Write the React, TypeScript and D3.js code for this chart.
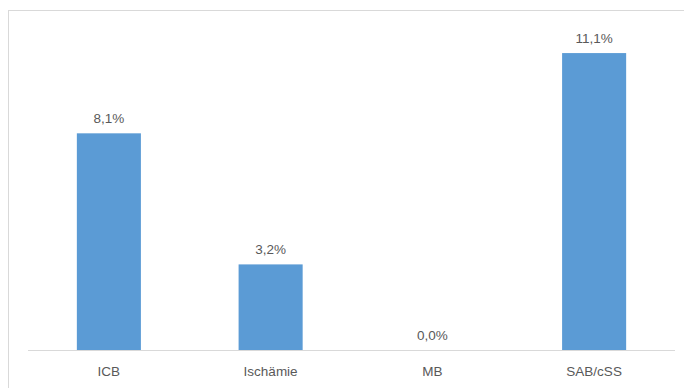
import React from "react";
import * as d3 from "d3";

const categories = ["ICB", "Ischämie", "MB", "SAB/cSS"];
const values = [8.1, 3.2, 0.0, 11.1];
const valueLabels = ["8,1%", "3,2%", "0,0%", "11,1%"];

export default function App() {
  const W = 684;
  const H = 388;
  const left = 28;
  const right = 675;
  const baseY = 350;
  const topY = 29;

  const x = d3.scaleBand<string>().domain(categories).range([left, right]).paddingInner(0.604).paddingOuter(0.302);
  const y = d3.scaleLinear().domain([0, 12]).range([baseY, topY]);

  const font = "'Liberation Sans', Arial, sans-serif";
  const textColor = "#595959";

  return (
    <svg width={W} height={H} style={{ position: "absolute", left: 0, top: 0, background: "#fff" }}>
      <rect x={8.5} y={10.5} width={720} height={420} fill="#fff" stroke="#D9D9D9" strokeWidth={1} />
      {categories.map((c, i) => (
        <rect key={c} x={x(c)} y={y(values[i])} width={x.bandwidth()} height={baseY - y(values[i])} fill="#5B9BD5" />
      ))}
      <line x1={left} x2={right} y1={baseY + 0.5} y2={baseY + 0.5} stroke="#D9D9D9" strokeWidth={1} />
      {categories.map((c, i) => (
        <text key={"v" + c} x={(x(c) as number) + x.bandwidth() / 2} y={y(values[i]) - 10.5} textAnchor="middle" fontFamily={font} fontSize={13.5} fill={textColor}>
          {valueLabels[i]}
        </text>
      ))}
      {categories.map((c) => (
        <text key={"c" + c} x={(x(c) as number) + x.bandwidth() / 2} y={376} textAnchor="middle" fontFamily={font} fontSize={13.5} fill={textColor}>
          {c}
        </text>
      ))}
    </svg>
  );
}
